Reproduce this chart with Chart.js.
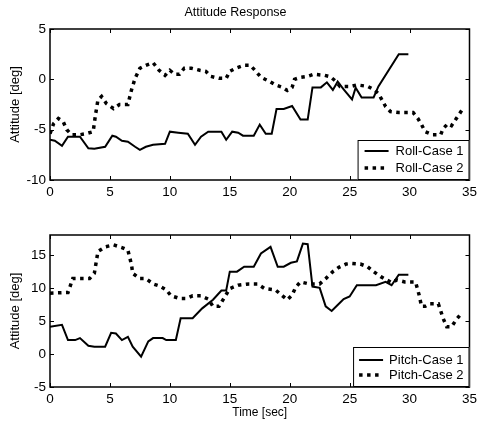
<!DOCTYPE html>
<html>
<head>
<meta charset="utf-8">
<script src="https://cdn.jsdelivr.net/npm/chart.js@4.4.1/dist/chart.umd.min.js"></script>
<style>
  html, body { margin: 0; padding: 0; background: #fff; }
  #wrap { position: relative; width: 481px; height: 426px; }
  canvas { position: absolute; left: 0; }
  #chRoll { top: 0; }
  #chPitch { top: 205px; }
</style>
</head>
<body>
<div id="wrap">
  <canvas id="chRoll" width="481" height="205"></canvas>
  <canvas id="chPitch" width="481" height="221"></canvas>
</div>
<script>
/* attitude response, two stacked plots */

// tick labels
var timeTicks = [0, 5, 10, 15, 20, 25, 30, 35];
var rollTicks = [-10, -5, 0, 5];
var pitchTicks = [-5, 0, 5, 10, 15];

// roll, case 1 (solid)
var rollT1 = [0, 0.4, 1.0, 1.5, 2.5, 3.2, 3.7, 4.6, 5.2, 5.5, 6.0, 6.5, 7.1, 7.5, 8.0, 8.6, 9.6, 10.0, 10.7, 11.5,
  12.1, 12.6, 13.2, 14.3, 14.7, 15.2, 15.7, 16.1, 17.0, 17.5, 18.0, 18.5, 18.9, 19.5, 20.2, 20.9, 21.5, 21.9, 22.6,
  23.1, 23.6, 24.0, 24.5, 25.2, 25.5, 26.0, 27.0, 27.4, 29.1, 29.9];
var rollV1 = [-6.0, -6.1, -6.6, -5.7, -5.7, -6.85, -6.9, -6.7, -5.6, -5.7, -6.1, -6.2, -6.7, -7.0, -6.7, -6.5, -6.4, -5.2, -5.3, -5.4,
  -6.5, -5.7, -5.2, -5.2, -6.0, -5.2, -5.3, -5.6, -5.6, -4.5, -5.4, -5.4, -2.95, -2.95, -2.65, -4.0, -4.0, -0.8, -0.8,
  -0.3, -1.05, -0.23, -1.0, -2.0, -0.83, -1.8, -1.8, -0.7, 2.5, 2.5];

// roll, case 2 (dotted)
var rollT2 = [0, 0.3, 0.7, 1.1, 1.4, 1.8, 2.5, 3.0, 3.6, 3.8, 4.0, 4.3, 4.7, 5.3, 5.8, 6.5, 6.8, 7.1, 7.5, 8.0, 8.6,
  9.1, 9.6, 10.0, 10.4, 10.8, 11.2, 11.8, 12.5, 13.0, 13.4, 14.1, 14.7, 15.0, 15.5, 16.2, 16.7, 17.1, 17.6, 18.3,
  18.8, 19.4, 19.8, 20.2, 20.4, 20.9, 21.5, 22.0, 22.9, 23.4, 23.85, 24.2, 25.1, 25.6, 26.5, 27.0, 27.4, 27.7, 28.0,
  28.4, 29.1, 30.3, 30.7, 31.0, 31.3, 31.9, 32.6, 32.8, 33.2, 33.5, 33.9, 34.4];
var rollV2 = [-5.4, -4.4, -3.9, -4.2, -5.0, -5.5, -5.5, -5.4, -5.2, -3.5, -2.05, -1.7, -2.4, -2.9, -2.5, -2.5, -1.05, 0.1, 1.1, 1.4, 1.65,
  0.9, 0.4, 0.9, 0.5, 0.5, 1.1, 1.1, 0.9, 0.8, 0.3, 0.1, 0.1, 0.8, 1.1, 1.4, 1.4, 0.9, 0.2, -0.2,
  -0.55, -0.8, -1.1, -0.8, 0.0, 0.2, 0.3, 0.5, 0.4, 0.25, -0.2, -0.7, -0.7, -0.55, -0.7, -1.0, -1.4, -2.05, -2.7,
  -3.2, -3.3, -3.3, -3.9, -4.5, -5.2, -5.5, -5.5, -4.9, -4.4, -4.6, -3.9, -3.0];

// pitch, case 1 (solid)
var pitchT1 = [0, 1.0, 1.5, 2.1, 2.5, 3.2, 3.7, 4.6, 5.1, 5.5, 6.0, 6.5, 6.9, 7.6, 8.2, 8.6, 9.4, 9.7, 10.5, 10.9,
  11.9, 12.7, 13.6, 14.3, 14.7, 15.0, 15.6, 16.2, 17.0, 17.6, 18.4, 19.0, 19.5, 20.1, 20.6, 21.1, 21.5, 21.9, 22.5,
  23.0, 23.5, 24.0, 24.5, 25.0, 25.6, 27.2, 28.0, 28.5, 29.1, 29.9];
var pitchV1 = [4.1, 4.4, 2.1, 2.1, 2.4, 1.25, 1.1, 1.1, 3.2, 3.1, 2.1, 2.6, 1.1, -0.4, 1.9, 2.4, 2.4, 2.1, 2.1, 5.4,
  5.4, 6.9, 8.2, 9.6, 9.6, 12.45, 12.45, 13.2, 13.2, 15.2, 16.2, 13.2, 13.2, 13.8, 14.0, 16.7, 16.6, 10.2, 10.0,
  7.2, 6.5, 7.4, 8.3, 8.7, 10.4, 10.4, 10.9, 10.4, 12.0, 12.0];

// pitch, case 2 (dotted)
var pitchT2 = [0, 1.5, 1.9, 3.3, 3.7, 4.0, 4.6, 5.3, 6.0, 6.5, 6.8, 6.9, 7.5, 8.0, 8.6, 9.1, 9.7, 10.1, 10.8, 11.4,
  11.9, 12.6, 13.2, 13.6, 14.1, 14.5, 15.0, 15.7, 16.6, 17.3, 17.9, 18.8, 19.4, 19.8, 20.2, 20.5, 20.9, 21.6, 22.5,
  23.0, 23.6, 24.1, 24.7, 25.2, 25.9, 26.5, 27.0, 27.6, 28.1, 28.5, 28.95, 29.6, 30.5, 30.8, 31.0, 31.3, 31.7, 32.4,
  32.8, 33.1, 33.5, 33.9, 34.4];
var pitchV2 = [9.2, 9.3, 11.4, 11.4, 12.2, 15.5, 16.2, 16.5, 16.1, 15.7, 13.5, 12.2, 11.4, 11.4, 10.6, 10.3, 9.7, 8.8, 8.4, 8.4,
  8.8, 8.8, 8.3, 7.2, 7.2, 8.4, 9.9, 10.4, 10.6, 10.6, 9.9, 9.7, 8.8, 8.2, 8.9, 10.1, 10.9, 10.6, 10.6,
  11.4, 12.45, 13.1, 13.6, 13.7, 13.6, 13.2, 12.45, 11.7, 11.2, 10.8, 11.2, 10.9, 10.9, 8.9, 7.2, 7.2, 7.6, 7.6,
  5.4, 4.1, 4.1, 5.2, 6.3];

var tickFont = {family: "'Liberation Sans Narrow', 'Liberation Sans', Arial, sans-serif", size: 13.5};
var textFont = {family: "'Liberation Sans', Arial, sans-serif", size: 12};
var legendFont = {family: "'Liberation Sans', Arial, sans-serif", size: 13};

function pts(t, v) {
  return t.map(function (x, i) { return {x: x, y: v[i]}; });
}

function solid(label, t, v) {
  return {label: label, data: pts(t, v), borderColor: '#000', borderWidth: 2, pointRadius: 0, tension: 0};
}
function dotted(label, t, v) {
  return {label: label, data: pts(t, v), borderColor: '#000', borderWidth: 3.5, borderDash: [3.5, 4.5],
    borderCapStyle: 'butt', pointRadius: 0, tension: 0};
}

// box, inward ticks on all four sides, legend box at lower right
var matlabFrame = {
  id: 'matlabFrame',
  afterDatasetsDraw: function (chart) {
    var ctx = chart.ctx, a = chart.chartArea;
    var xs = chart.scales.x, ys = chart.scales.y;
    ctx.save();
    ctx.strokeStyle = '#000';
    ctx.lineWidth = 1;
    ctx.beginPath();
    xs.ticks.forEach(function (tk) {
      var px = Math.round(xs.getPixelForValue(tk.value)) + 0.5;
      ctx.moveTo(px, a.bottom); ctx.lineTo(px, a.bottom - 4);
      ctx.moveTo(px, a.top); ctx.lineTo(px, a.top + 4);
    });
    ys.ticks.forEach(function (tk) {
      var py = Math.round(ys.getPixelForValue(tk.value)) + 0.5;
      ctx.moveTo(a.left, py); ctx.lineTo(a.left + 4, py);
      ctx.moveTo(a.right, py); ctx.lineTo(a.right - 4, py);
    });
    ctx.stroke();
    ctx.lineWidth = 1.5;
    ctx.strokeRect(a.left, a.top, a.right - a.left, a.bottom - a.top);

    // legend
    var opt = chart.options.plugins.matlabFrame;
    ctx.font = legendFont.size + 'px ' + legendFont.family;
    var maxW = 0;
    chart.data.datasets.forEach(function (ds) { maxW = Math.max(maxW, ctx.measureText(ds.label).width); });
    var w = opt.sample + opt.padL + opt.gap + maxW + 6;
    var h = 40;
    var bx = a.right - w, by = a.bottom - h;
    ctx.fillStyle = '#fff';
    ctx.fillRect(bx, by, w, h);
    ctx.lineWidth = 1;
    ctx.strokeRect(bx + 0.5, by + 0.5, w - 1, h - 1);
    chart.data.datasets.forEach(function (ds, i) {
      var cy = by + opt.row0 + i * opt.rowH;
      ctx.beginPath();
      ctx.lineWidth = ds.borderWidth;
      ctx.setLineDash(ds.borderDash || []);
      ctx.lineCap = 'butt';
      ctx.moveTo(bx + opt.padL, cy);
      ctx.lineTo(bx + opt.padL + opt.sample, cy);
      ctx.stroke();
      ctx.setLineDash([]);
      ctx.fillStyle = '#000';
      ctx.textBaseline = 'middle';
      ctx.textAlign = 'left';
      ctx.fillText(ds.label, bx + opt.padL + opt.sample + opt.gap, cy);
    });
    ctx.restore();
  }
};

function axes(yTicks, yMin, yMax, xHeight, xTitle) {
  return {
    x: {
      type: 'linear', min: 0, max: 35,
      afterBuildTicks: function (s) { s.ticks = timeTicks.map(function (v) { return {value: v}; }); },
      afterFit: function (s) { s.height = xHeight; },
      grid: {display: false, drawTicks: false},
      border: {display: false},
      ticks: {color: '#000', font: tickFont, padding: 4, maxRotation: 0},
      title: {display: !!xTitle, text: xTitle, color: '#000', font: textFont, padding: {top: 2, bottom: 6}}
    },
    y: {
      type: 'linear', min: yMin, max: yMax,
      afterBuildTicks: function (s) { s.ticks = yTicks.map(function (v) { return {value: v}; }); },
      afterFit: function (s) { s.width = 50; },
      grid: {display: false, drawTicks: false},
      border: {display: false},
      ticks: {color: '#000', font: tickFont, padding: 4},
      title: {display: true, text: 'Attitude [deg]', color: '#000',
        font: {family: textFont.family, size: 13}, padding: {top: 8, bottom: 0}}
    }
  };
}

var chRoll = document.getElementById('chRoll');
if (chRoll) {
  new Chart(chRoll, {
    type: 'line',
    data: {datasets: [solid('Roll-Case 1', rollT1, rollV1), dotted('Roll-Case 2', rollT2, rollV2)]},
    options: {
      responsive: false, animation: false, devicePixelRatio: 1,
      layout: {padding: {left: 0, right: 10, top: 0, bottom: 0}},
      scales: axes(rollTicks, -10, 5, 25, ''),
      plugins: {
        legend: {display: false},
        tooltip: {enabled: false},
        title: {display: true, text: 'Attitude Response', color: '#000',
          font: {family: textFont.family, size: 12.5, weight: 'normal'}, padding: {top: 5, bottom: 9}},
        matlabFrame: {padL: 7, sample: 24, gap: 7, row0: 11, rowH: 17}
      }
    },
    plugins: [matlabFrame]
  });
}

var chPitch = document.getElementById('chPitch');
if (chPitch) {
  new Chart(chPitch, {
    type: 'line',
    data: {datasets: [solid('Pitch-Case 1', pitchT1, pitchV1), dotted('Pitch-Case 2', pitchT2, pitchV2)]},
    options: {
      responsive: false, animation: false, devicePixelRatio: 1,
      layout: {padding: {left: 0, right: 10, top: 30, bottom: 0}},
      scales: axes(pitchTicks, -5, 18, 39, 'Time [sec]'),
      plugins: {
        legend: {display: false},
        tooltip: {enabled: false},
        matlabFrame: {padL: 6, sample: 24, gap: 6, row0: 13, rowH: 15}
      }
    },
    plugins: [matlabFrame]
  });
}
</script>
</body>
</html>
